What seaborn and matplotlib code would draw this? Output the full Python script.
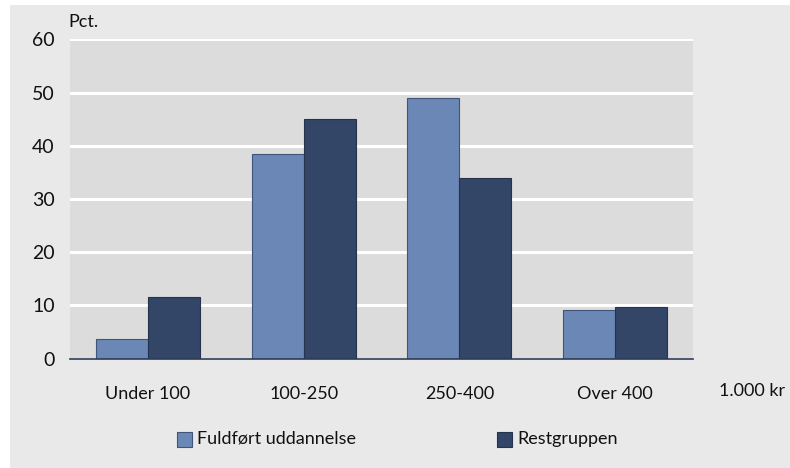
import matplotlib
matplotlib.use("Agg")
import matplotlib.pyplot as plt
from matplotlib.patches import Rectangle
import seaborn as sns
import pandas as pd

categories = ["Under 100", "100-250", "250-400", "Over 400"]
series_names = ["Fuldført uddannelse", "Restgruppen"]
fuldfoert = [3.6, 38.5, 49.0, 9.2]
restgruppen = [11.6, 45.1, 34.0, 9.6]
yticks = [0, 10, 20, 30, 40, 50, 60]

colors = ["#6b87b6", "#334668"]
edge_colors = ["#3f5478", "#26334d"]

df = pd.DataFrame({
    "kategori": categories * 2,
    "serie": [series_names[0]] * 4 + [series_names[1]] * 4,
    "pct": fuldfoert + restgruppen,
})

sns.set_theme(style="white")
plt.rcParams["font.family"] = ["Lato", "DejaVu Sans"]

W, H = 790, 468
FS = 13
TXT = "#111111"
fig = plt.figure(figsize=(W / 100, H / 100), dpi=100)
fig.patch.set_facecolor("white")
# grey panel behind the chart
fig.add_artist(Rectangle((10 / W, 0), 1 - 10 / W, 1 - 5 / H,
                         transform=fig.transFigure, facecolor="#e9e9e9",
                         edgecolor="none", zorder=-5))

left, right, top, bottom = 70, 693, 39.3, 358.5
ax = fig.add_axes([left / W, 1 - bottom / H, (right - left) / W, (bottom - top) / H])
ax.set_zorder(1)
ax.set_facecolor("#dcdcdc")

sns.barplot(data=df, x="kategori", y="pct", hue="serie", order=categories,
            hue_order=series_names, palette=colors, width=0.668, ax=ax,
            saturation=1, legend=False, zorder=3)

for i, container in enumerate(ax.containers):
    for bar in container:
        bar.set_edgecolor(edge_colors[i])
        bar.set_linewidth(0.8)

ax.set_xlim(-0.5, 3.5)
ax.set_ylim(0, 60)
ax.set_yticks(yticks)
ax.set_yticklabels([str(v) for v in yticks], fontsize=14, color=TXT)
ax.yaxis.grid(True, color="white", linewidth=2.2, zorder=0)
ax.set_axisbelow(True)
for s in ["top", "right", "left"]:
    ax.spines[s].set_visible(False)
ax.spines["bottom"].set_color("#2c3b57")
ax.spines["bottom"].set_linewidth(1.2)
ax.spines["bottom"].set_zorder(5)
ax.tick_params(axis="y", length=0, pad=11)
ax.tick_params(axis="x", length=0, pad=20, labelsize=FS, colors=TXT)
ax.set_xlabel("")
ax.set_ylabel("")

fig.text(68 / W, 1 - 22 / H, "Pct.", fontsize=FS, color=TXT,
         ha="left", va="center")
fig.text(752 / W, 1 - 391 / H, "1.000 kr", fontsize=FS, color=TXT,
         ha="center", va="center")

# legend
ly = 1 - 439 / H
for x0, name, c, ec in [(177, series_names[0], colors[0], edge_colors[0]),
                        (497, series_names[1], colors[1], edge_colors[1])]:
    fig.add_artist(Rectangle((x0 / W, ly - 7.5 / H), 15 / W, 15 / H,
                             transform=fig.transFigure, facecolor=c,
                             edgecolor=ec, linewidth=0.8, zorder=2))
    fig.text((x0 + 20) / W, ly, name, fontsize=FS, color=TXT,
             ha="left", va="center")

fig.savefig("out.png", dpi=100)
